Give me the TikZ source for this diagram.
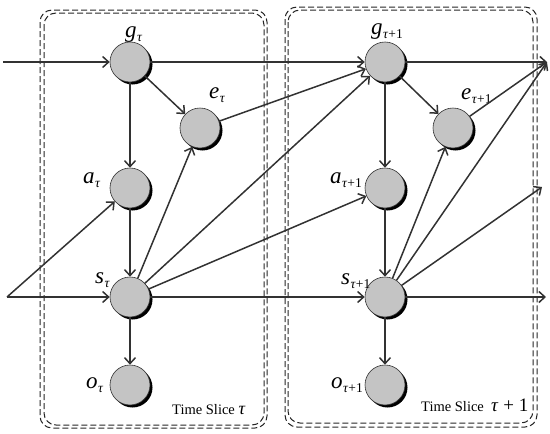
\documentclass[tikz,border=0pt]{standalone}
\usepackage{fontspec}
\setmainfont{Liberation Serif}
\usetikzlibrary{arrows.meta,shadows}
\definecolor{nodefill}{RGB}{196,196,196}
\definecolor{edgecol}{RGB}{50,50,50}
\newcommand{\lab}[2]{\textit{#1}\kern0.5pt\raisebox{-4pt}{\fontsize{13.5}{13.5}\selectfont #2}}
\begin{document}
\begin{tikzpicture}[x=1pt,y=-1pt,
  var/.style={circle,minimum size=40pt,inner sep=0pt,fill=nodefill,draw=edgecol,line width=0.6pt,
     drop shadow={shadow xshift=2.5pt,shadow yshift=-2.5pt,fill=black,opacity=1}},
  edge/.style={draw=edgecol,line width=1.5pt,-{Straight Barb[length=6pt,width=11pt]}},
  slicebox/.style={draw=black!85,line width=1pt,dash pattern=on 6pt off 3pt,rounded corners=12pt},
  lbl/.style={anchor=base west,inner sep=0pt,font=\fontsize{23}{23}\selectfont},
  ts/.style={anchor=base west,inner sep=0pt,font=\fontsize{14.5}{14.5}\selectfont}]
\useasboundingbox (0,0) rectangle (550,434);
% slice boxes
\draw[slicebox] (40,10) rectangle (267,428);
\draw[slicebox] (44,13) rectangle (264,425);
\draw[slicebox] (285,7) rectangle (537,427);
\draw[slicebox] (288,10) rectangle (533,423);
% nodes
\node[var] (g1) at (130,62) {};
\node[var] (e1) at (200,128) {};
\node[var] (a1) at (130,188) {};
\node[var] (s1) at (130,297) {};
\node[var] (o1) at (130,385) {};
\node[var] (g2) at (385,62) {};
\node[var] (e2) at (453,128) {};
\node[var] (a2) at (385,188) {};
\node[var] (s2) at (385,297) {};
\node[var] (o2) at (385,385) {};
% free ends
\coordinate (inG) at (3,62);
\coordinate (inS) at (7,297);
\coordinate (outG) at (547,62);
\coordinate (outA) at (542,187);
\coordinate (outS) at (546,297);
% labels
\node[lbl] (lg1) at (125,37) {\lab{g}{\textit{τ}}};
\node[lbl] (le1) at (209,98) {\lab{e}{\textit{τ}}};
\node[lbl] (la1) at (83,183) {\lab{a}{\textit{τ}}};
\node[lbl] (ls1) at (95,283) {\lab{s}{\textit{τ}}};
\node[lbl] (lo1) at (86,388) {\lab{o}{\textit{τ}}};
\node[lbl] (lg2) at (371,34) {\lab{g}{\textit{τ}+1}};
\node[lbl] (le2) at (461,99) {\lab{e}{\textit{τ}+1}};
\node[lbl] (la2) at (330,183) {\lab{a}{\textit{τ}+1}};
\node[lbl] (ls2) at (341,284) {\lab{s}{\textit{τ}+1}};
\node[lbl] (lo2) at (331,388) {\lab{o}{\textit{τ}+1}};
\node[ts] (t1) at (172,414) {Time Slice \fontsize{18}{18}\selectfont\textit{τ}};
\node[ts] (t2) at (421,411) {Time Slice\ \ \fontsize{19}{19}\selectfont\textit{τ} + 1};
% edges
\draw[edge] (inG) -- (g1);
\draw[edge] (inS) -- (s1);
\draw[edge] (inS) -- (a1);
\draw[edge] (g1) -- (a1);
\draw[edge] (g1) -- (e1);
\draw[edge] (a1) -- (s1);
\draw[edge] (s1) -- (o1);
\draw[edge] (s1) -- (e1);
\draw[edge] (g1) -- (g2);
\draw[edge] (e1) -- (g2);
\draw[edge] (s1) -- (g2);
\draw[edge] (s1) -- (a2);
\draw[edge] (s1) -- (s2);
\draw[edge] (g2) -- (a2);
\draw[edge] (g2) -- (e2);
\draw[edge] (a2) -- (s2);
\draw[edge] (s2) -- (o2);
\draw[edge] (s2) -- (e2);
\draw[edge] (g2) -- (outG);
\draw[edge] (e2) -- (outG);
\draw[edge] (s2) -- (outG);
\draw[edge] (s2) -- (outA);
\draw[edge] (s2) -- (outS);
\end{tikzpicture}
\end{document}
